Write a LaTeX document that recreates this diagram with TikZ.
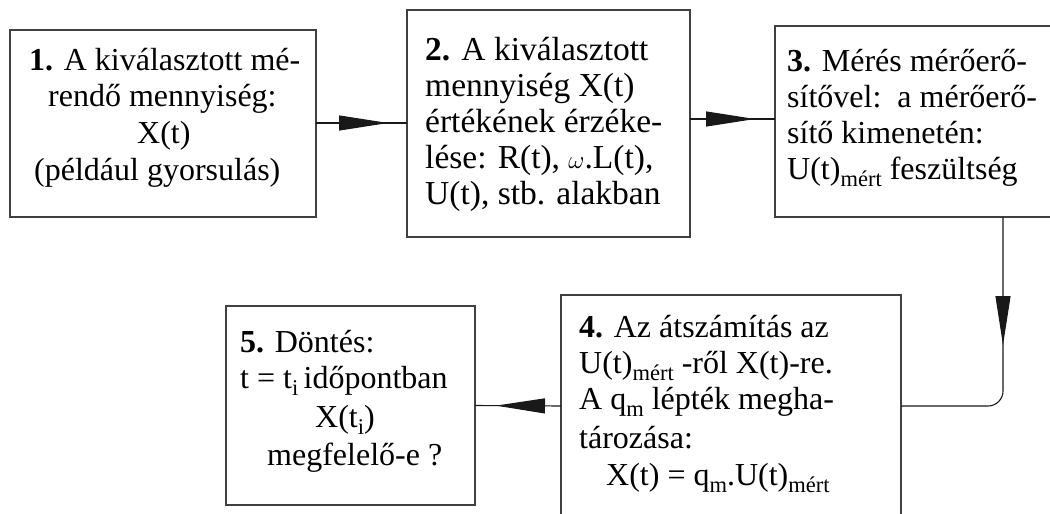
\documentclass[tikz,border=0pt]{standalone}
\usepackage{fontspec}
\setmainfont{Liberation Serif}
\usetikzlibrary{arrows.meta,decorations.markings}
\newcommand\msub[1]{\raisebox{-7.5pt}{\fontsize{22.5}{24}\selectfont #1}}
\begin{document}
\begin{tikzpicture}[x=1pt,y=-1pt,
  box/.style={draw=black!75,line width=1.2pt,anchor=north west,inner sep=0pt,outer sep=0pt},
  txt/.style={anchor=base west,inner sep=0pt,font=\fontsize{32}{36}\selectfont},
  txtb/.style={anchor=base west,inner sep=0pt,font=\fontsize{33.5}{36}\selectfont},
  conn/.style={line width=1.1pt,draw=black!90},
  tipat/.style={postaction={decorate},decoration={markings,mark=at position #1 with {\arrow{Triangle[length=49pt,width=15pt]}}}}
]
\useasboundingbox (0,0) rectangle (1050,514);
\clip (0,0) rectangle (1050,514);

% boxes
\node[box,minimum width=306pt,minimum height=187pt] (b1) at (10,30) {};
\node[box,minimum width=283pt,minimum height=227pt] (b2) at (407,10) {};
\node[box,minimum width=400pt,minimum height=191pt] (b3) at (775,26) {};
\node[box,minimum width=340pt,minimum height=222pt] (b4) at (561,295) {};
\node[box,minimum width=249pt,minimum height=199pt] (b5) at (226,306) {};

% helper coordinates for connectors
\coordinate (y12) at (0,123);
\coordinate (y23) at (0,119);
\coordinate (vx) at (1003,0);

% box 1 text
\node[txt] (t11) at (29,70) {\textbf{1.} A kiválasztott mé-};
\node[txt] (t12) at (48,106) {rendő mennyiség:};
\node[txt] (t13) at (137,143) {X(t)};
\node[txt] (t14) at (34,180) {(például gyorsulás)};

% box 2 text
\node[txtb] (t21) at (425,60) {\textbf{2.} A kiválasztott};
\node[txtb] (t22) at (425,96) {mennyiség X(t)};
\node[txtb] (t23) at (425,132) {értékének érzéke-};
\node[txtb] (t24) at (425,168) {lése: R(t), $\omega$.L(t),};
\node[txtb] (t25) at (425,204) {U(t), stb. alakban};

% box 3 text
\node[txt] (t31) at (787,71) {\textbf{3.} Mérés mérőerő-};
\node[txt] (t32) at (787,107) {sítővel:\ \ a mérőerő-};
\node[txt] (t33) at (787,143) {sítő kimenetén:};
\node[txt] (t34) at (787,179) {U(t)\msub{mért} feszültség};

% box 4 text
\node[txt] (t41) at (579,337) {\textbf{4.} Az átszámítás az};
\node[txt] (t42) at (579,373) {U(t)\msub{mért} -ről X(t)-re.};
\node[txt] (t43) at (579,409) {A q\msub{m} lépték megha-};
\node[txt] (t44) at (579,448) {tározása:};
\node[txt] (t45) at (606,485) {X(t) = q\msub{m}.U(t)\msub{mért}};

% box 5 text
\node[txt] (t51) at (240,352) {\textbf{5.} Döntés:};
\node[txt] (t52) at (240,388) {t = t\msub{i}\,időpontban};
\node[txt] (t53) at (315,427) {X(t\msub{i})};
\node[txt] (t54) at (267,465) {megfelelő-e ?};

% connectors
\draw[conn,tipat=72pt] (b1.east |- y12) -- (b2.west |- y12);
\draw[conn,tipat=65pt] (b2.east |- y23) -- (b3.west |- y23);
\draw[conn,rounded corners=15pt,tipat=128pt] (b3.south -| vx) |- (b4.east);
\draw[conn,tipat=65pt] (b4.west) -- (b5.east);
\end{tikzpicture}
\end{document}
